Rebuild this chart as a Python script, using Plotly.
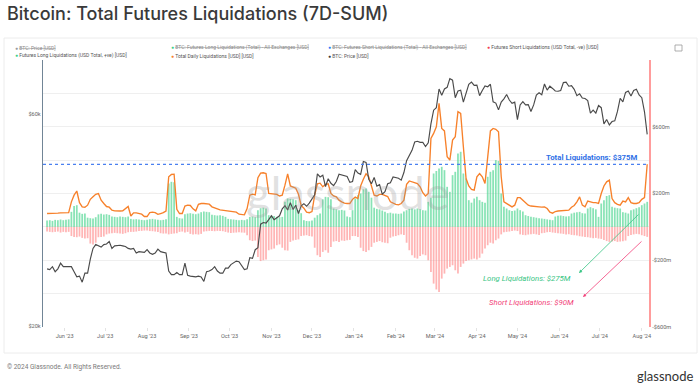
import math
import pandas as pd
import plotly.graph_objects as go

# ---------------- data (2-day samples, 19 May 2023 .. 5 Aug 2024) ----------------
dates = pd.date_range("2023-05-19", "2024-08-05", freq="2D")

# BTC price, thousands of USD
price_k = [
    26.9, 26.8, 27.2, 26.5, 26.9, 27.7, 27.2,
    27.2, 27.1, 27.2, 26.5, 25.8, 25.9, 25.1, 26.3, 26.3, 28.3, 29.9, 30.5, 30.3, 30.1, 30.5,
    30.6, 31.0, 29.9, 30.3, 30.4, 30.4, 30.3, 30.2, 29.9, 29.8, 29.9, 29.2, 29.4, 29.3, 29.3,
    29.7, 29.2, 29.0, 29.2, 29.8, 29.4, 29.3, 29.2, 26.6, 26.1, 26.1, 26.4, 26.1, 26.1, 27.7, 26.0,
    25.9, 25.8, 25.8, 25.9, 25.8, 25.2, 26.5, 26.6, 26.8, 27.2, 26.6, 26.3, 26.3, 27.0, 27.0,
    27.5, 27.8, 28.0, 27.9, 27.4, 26.8, 26.9, 28.5, 28.4, 29.7, 30.0, 33.9, 34.2, 34.1, 34.7,
    35.4, 34.7, 35.0, 35.4, 36.7, 37.3, 36.5, 37.9, 36.6, 37.4, 35.8, 37.3, 37.7, 37.2, 37.8,
    38.7, 39.5, 44.0, 43.3, 43.7, 41.2, 42.9, 41.9, 41.4, 42.3, 43.9, 43.7, 43.6, 43.4, 42.1, 42.3,
    45.0, 44.2, 43.9, 46.9, 46.7, 42.8, 41.8, 43.2, 41.3, 41.6, 39.6, 40.1, 41.8, 42.0, 43.3,
    43.1, 43.0, 42.6, 44.3, 47.1, 48.3, 49.7, 51.9, 52.1, 51.8, 51.8, 50.7, 51.7, 57.0, 61.2,
    62.0, 68.3, 66.1, 68.3, 68.9, 72.1, 71.5, 65.3, 67.6, 67.9, 63.8, 67.2, 70.0, 70.8, 69.6,
    69.7, 66.0, 67.8, 69.4, 69.1, 70.0, 63.9, 63.5, 61.3, 63.8, 64.9, 66.4, 64.5, 63.4, 63.8,
    58.3, 62.9, 64.0, 62.9, 63.0, 60.8, 62.9, 66.2, 67.0, 66.3, 70.1, 67.9, 69.3, 68.5, 67.6, 67.5,
    67.8, 70.6, 70.8, 69.3, 69.5, 68.2, 66.0, 66.6, 65.2, 65.0, 64.3, 60.3, 61.2, 60.3, 62.7,
    62.0, 57.0, 58.3, 56.7, 57.7, 57.9, 60.8, 65.1, 63.9, 67.1, 67.6, 65.9, 67.8, 68.2, 66.2,
    65.3, 60.7, 54.0,
]

# Total liquidations, 7D sum, millions of USD
total_m = [
    80, 80, 78, 80, 82, 84, 83,
    82, 85, 150, 190, 215, 145, 120, 118, 130, 165, 180, 195, 200, 160, 140,
    122, 118, 100, 96, 94, 95, 96, 110, 122, 65, 84, 84, 82, 76, 62,
    62, 86, 88, 85, 75, 80, 85, 95, 300, 314, 316, 105, 80, 80, 125, 130,
    128, 108, 96, 135, 140, 140, 138, 136, 120, 112, 108, 102, 100, 98, 92,
    90, 90, 88, 76, 74, 72, 110, 190, 196, 192, 295, 322, 324, 320, 200,
    198, 200, 195, 185, 190, 250, 318, 245, 238, 232, 195, 128, 112, 88, 85,
    92, 190, 258, 262, 240, 255, 258, 200, 185, 180, 160, 150, 142, 140, 140, 165,
    178, 170, 245, 285, 318, 300, 245, 190, 185, 195, 195, 188, 182, 150, 140,
    135, 132, 140, 160, 255, 275, 270, 265, 260, 240, 205, 185, 200, 530, 560,
    600, 740, 590, 575, 420, 400, 520, 540, 690, 680, 480, 290, 245, 225, 220,
    300, 320, 300, 260, 400, 575, 590, 585, 570, 300, 150, 140, 125, 120, 130,
    175, 175, 160, 140, 130, 125, 122, 120, 120, 118, 120, 110, 88, 82, 92, 95,
    96, 98, 100, 100, 118, 128, 150, 180, 130, 120, 155, 150, 145, 145, 140,
    200, 245, 270, 280, 170, 145, 135, 130, 155, 150, 175, 145, 140, 140, 145,
    165, 175, 375,
]

# Long liquidations (+ve), millions of USD
long_m = [
    38, 40, 36, 42, 40, 44, 40,
    42, 45, 90, 125, 130, 85, 78, 80, 55, 52, 50, 58, 75, 78, 74,
    76, 72, 62, 60, 58, 62, 60, 58, 62, 48, 45, 46, 44, 42, 40,
    42, 46, 48, 45, 42, 40, 42, 45, 260, 270, 268, 60, 52, 50, 75, 80,
    82, 78, 76, 80, 88, 92, 90, 88, 72, 70, 68, 70, 66, 60, 48,
    45, 44, 42, 40, 42, 40, 45, 60, 62, 58, 100, 112, 115, 110, 70,
    68, 65, 60, 58, 60, 150, 170, 168, 165, 160, 100, 82, 40, 35, 34,
    38, 55, 70, 80, 165, 180, 178, 165, 110, 105, 100, 102, 98, 62, 58, 100,
    170, 190, 200, 225, 230, 210, 175, 115, 108, 105, 98, 90, 82, 85, 80,
    80, 78, 80, 92, 100, 108, 110, 105, 110, 105, 100, 98, 150, 175, 320,
    335, 350, 360, 340, 240, 210, 310, 330, 440, 450, 320, 290, 160, 145, 170,
    180, 160, 150, 145, 300, 330, 340, 400, 395, 200, 120, 110, 100, 95, 98,
    110, 100, 92, 70, 65, 60, 58, 55, 52, 50, 48, 45, 42, 40, 62, 66,
    68, 65, 62, 64, 80, 85, 88, 90, 82, 80, 110, 118, 112, 105, 60,
    140, 160, 185, 190, 120, 115, 112, 110, 88, 85, 80, 100, 105, 112, 118,
    130, 140, 150,
]

# Short liquidations (-ve), millions of USD
short_m = [
    -28, -30, -32, -30, -28, -34, -30,
    -32, -30, -55, -60, -62, -58, -66, -70, -68, -100, -105, -95, -62, -60, -58,
    -45, -40, -38, -36, -38, -40, -42, -38, -32, -30, -30, -28, -25, -24, -22,
    -22, -25, -26, -28, -30, -38, -40, -40, -45, -42, -40, -38, -30, -28, -34, -30,
    -42, -45, -44, -46, -42, -28, -26, -24, -25, -26, -24, -25, -26, -30, -34,
    -36, -35, -34, -32, -34, -35, -50, -80, -85, -82, -180, -205, -200, -195, -140,
    -135, -130, -110, -105, -125, -140, -142, -90, -82, -78, -75, -55, -52, -50, -55,
    -58, -125, -170, -180, -150, -140, -155, -120, -88, -85, -90, -82, -84, -80, -78, -55,
    -55, -60, -125, -145, -150, -140, -120, -95, -90, -85, -92, -95, -98, -65, -58,
    -55, -50, -45, -48, -95, -140, -170, -185, -190, -175, -165, -170, -200, -270, -340,
    -375, -390, -310, -280, -250, -240, -230, -260, -280, -240, -220, -205, -200, -195, -190,
    -195, -185, -160, -130, -110, -95, -100, -80, -70, -45, -32, -30, -28, -25, -22,
    -25, -45, -48, -50, -46, -44, -42, -45, -48, -38, -36, -32, -30, -34, -36, -38,
    -40, -42, -45, -44, -48, -50, -52, -56, -58, -60, -62, -65, -68, -66, -70,
    -72, -78, -85, -90, -88, -85, -90, -88, -86, -82, -55, -48, -45, -42, -44,
    -50, -55, -60,
]

month_ticks = pd.date_range("2023-06-01", "2024-08-01", freq="MS")
month_labels = [d.strftime("%b '%y") for d in month_ticks]

liq_ticks = [-600, -400, -200, 0, 200, 400, 600, 800]
liq_labels = ["-$600m", "", "-$200m", "", "$200m", "", "$600m", ""]
price_ticks = [20, 60]
price_labels = ["$20k", "$60k"]

total_now, long_now, short_now = 375, 275, 90

for arr in (price_k, total_m, long_m, short_m):
    assert len(arr) == len(dates), (len(arr), len(dates))

# ---------------- layout helpers (pixel -> paper) ----------------
W, H = 700, 389
PL, PR, PT, PB = 43, 649, 60, 327


def fx(x):
    return (x - PL) / (PR - PL)


def fy(y):
    return (PB - y) / (PB - PT)


FONT = "Roboto"
DAY = 86400000

fig = go.Figure()
fig.add_trace(go.Bar(x=dates, y=long_m, width=1.3 * DAY, yaxis="y",
                     marker=dict(color="rgba(80,214,146,0.68)", line_width=0)))
fig.add_trace(go.Bar(x=dates, y=short_m, width=1.3 * DAY, yaxis="y",
                     marker=dict(color="rgba(255,128,128,0.58)", line_width=0)))
fig.add_trace(go.Scatter(x=dates, y=total_m, mode="lines", yaxis="y",
                         line=dict(color="#f7812b", width=1.35)))
fig.add_trace(go.Scatter(x=dates, y=price_k, mode="lines", yaxis="y2",
                         line=dict(color="#4a4a4a", width=1.15)))

annotations = [
    dict(x=fx(5), y=fy(13), text="Bitcoin: Total Futures Liquidations (7D-SUM)",
         font=dict(family="Inter", size=18, color="#3a3a3a", weight=500),
         xanchor="left", yanchor="middle"),
    dict(x=fx(5), y=fy(367), text="© 2024 Glassnode. All Rights Reserved.",
         font=dict(family=FONT, size=6.5, color="#7a7a7a"), xanchor="left", yanchor="middle"),
    dict(x=fx(695), y=fy(376), text="glassnode",
         font=dict(family="Lato", size=13, color="#333333"), xanchor="right", yanchor="middle"),
    dict(x=fx(348), y=fy(192), text="glassnode",
         font=dict(family="Lato", size=47, color="rgba(150,150,150,0.28)"),
         xanchor="center", yanchor="middle"),
    dict(x=fx(640), y=fy(157), text=f"<b>Total Liquidations: ${total_now}M</b>",
         font=dict(family=FONT, size=7.8, color="#2e6fe6"), xanchor="right", yanchor="middle"),
    dict(x=fx(527), y=fy(278), text=f"<i>Long Liquidations: ${long_now}M</i>",
         font=dict(family=FONT, size=7.8, color="#38c584"), xanchor="center", yanchor="middle"),
    dict(x=fx(531), y=fy(302), text=f"<i>Short Liquidations: ${short_now}M</i>",
         font=dict(family=FONT, size=7.8, color="#f23f79"), xanchor="center", yanchor="middle"),
    # arrows
    dict(x=fx(579), y=fy(273), ax=61, ay=-60, axref="pixel", ayref="pixel", text="",
         showarrow=True, arrowhead=2, arrowsize=0.8, arrowwidth=0.8, arrowcolor="#38c584"),
    dict(x=fx(583), y=fy(297), ax=60, ay=-57, axref="pixel", ayref="pixel", text="",
         showarrow=True, arrowhead=2, arrowsize=0.8, arrowwidth=0.8, arrowcolor="#f23f79"),
]

legend_items = [
    (15, 48, "#9a9a9a", "BTC: Price [USD]", True),
    (171, 48, "#3fcf86", "BTC: Futures Long Liquidations (Total) - All Exchanges [USD]", True),
    (328, 48, "#2f7cf6", "BTC: Futures Short Liquidations (Total) - All Exchanges [USD]", True),
    (487, 48, "#f23f4f", "Futures Short Liquidations (USD Total, -ve) [USD]", False),
    (15, 56, "#3fcf86", "Futures Long Liquidations (USD Total, +ve) [USD]", False),
    (171, 56, "#f7812b", "Total Daily Liquidations [USD] [USD]", False),
    (328, 56, "#3a3a3a", "BTC: Price [USD]", False),
]
for lx, ly, col, label, off in legend_items:
    lab = (f'<span style="text-decoration:line-through">{label}</span>' if off else label)
    annotations.append(dict(
        x=fx(lx - 2), y=fy(ly), xanchor="left", yanchor="middle",
        text=f'<span style="color:{col}">●</span> {lab}',
        font=dict(family=FONT, size=5, color="#8a8a8a" if off else "#555555")))

for a in annotations:
    a.setdefault("xref", "paper")
    a.setdefault("yref", "paper")
    a.setdefault("showarrow", False)

shapes = [
    # chart panel frame
    dict(type="rect", xref="paper", yref="paper", x0=fx(4), x1=fx(697), y0=fy(38), y1=fy(353),
         line=dict(color="#ececec", width=1), fillcolor="rgba(0,0,0,0)", layer="below"),
    # total liquidations reference line
    dict(type="line", xref="paper", yref="y", x0=0, x1=1, y0=total_now, y1=total_now,
         line=dict(color="#4a80f0", width=1.2, dash="dot"), layer="above"),
    # settings icon
    dict(type="rect", xref="paper", yref="paper", x0=fx(675), x1=fx(682), y0=fy(45), y1=fy(51),
         line=dict(color="#9a9a9a", width=0.8), fillcolor="rgba(0,0,0,0)"),
]

fig.update_layout(
    width=W, height=H,
    margin=dict(l=PL, r=W - PR, t=PT, b=H - PB),
    paper_bgcolor="white", plot_bgcolor="white",
    showlegend=False, barmode="overlay",
    font=dict(family=FONT, size=6, color="#666666"),
    annotations=annotations, shapes=shapes,
    xaxis=dict(type="date", range=["2023-05-16", "2024-08-06 08:00"],
               tickvals=list(month_ticks), ticktext=month_labels,
               tickfont=dict(size=5.6, color="#666666"),
               showgrid=False, zeroline=False, showline=False,
               ticks="outside", ticklen=3, tickcolor="#e3e3e3"),
    yaxis=dict(side="right", range=[-600, 1000], tickvals=liq_ticks, ticktext=liq_labels,
               showgrid=True, gridcolor="#efefef", gridwidth=1, zeroline=False,
               showline=True, linecolor="#ff9c9c", linewidth=2.2,
               tickfont=dict(size=5.6, color="#666666"), ticks=""),
    yaxis2=dict(overlaying="y", side="left", type="log",
                range=[math.log10(20) - 0.0022, 1.8997],
                tickvals=price_ticks, ticktext=price_labels,
                showgrid=False, zeroline=False, showline=True,
                linecolor="#718596", linewidth=1.4,
                tickfont=dict(size=5.6, color="#666666"), ticks=""),
)

fig.write_html(
    "out.html",
    config={"displayModeBar": False},
    post_script="document.body.style.margin='0';document.body.style.overflow='hidden';",
)
